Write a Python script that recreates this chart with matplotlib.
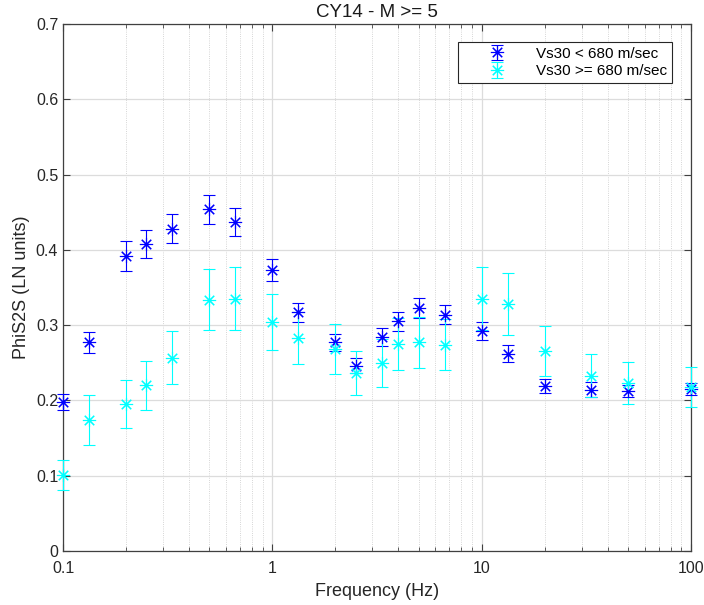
import numpy as np
import matplotlib
matplotlib.use("Agg")
import matplotlib.pyplot as plt
from matplotlib.ticker import FixedLocator, NullFormatter, LogLocator

plt.rcParams['font.family'] = ['Liberation Sans', 'DejaVu Sans']

freq = [0.1, 0.1333, 0.2, 0.25, 0.3333, 0.5, 0.6667, 1.0, 1.3333, 2.0, 2.5,
        3.3333, 4.0, 5.0, 6.6667, 10.0, 13.333, 20.0, 33.333, 50.0, 100.0]

# Vs30 < 680 m/sec
soft_mean = [0.198, 0.277, 0.392, 0.408, 0.428, 0.454, 0.437, 0.373, 0.317, 0.277, 0.246,
             0.284, 0.305, 0.323, 0.314, 0.292, 0.262, 0.219, 0.214, 0.213, 0.215]
soft_err = [0.011, 0.014, 0.020, 0.019, 0.019, 0.019, 0.018, 0.015, 0.013, 0.011, 0.010,
            0.012, 0.013, 0.013, 0.013, 0.012, 0.011, 0.009, 0.010, 0.008, 0.008]

# Vs30 >= 680 m/sec
hard_mean = [0.101, 0.174, 0.195, 0.220, 0.257, 0.334, 0.335, 0.304, 0.283, 0.268, 0.236,
             0.250, 0.275, 0.277, 0.274, 0.335, 0.328, 0.266, 0.233, 0.223, 0.218]
hard_err = [0.020, 0.033, 0.032, 0.033, 0.035, 0.041, 0.042, 0.037, 0.035, 0.033, 0.029,
            0.032, 0.034, 0.034, 0.034, 0.042, 0.041, 0.033, 0.028, 0.028, 0.027]

labels = ['Vs30 < 680 m/sec', 'Vs30 >= 680 m/sec']

yticks = [0, 0.1, 0.2, 0.3, 0.4, 0.5, 0.6, 0.7]
ylabels = ['0', '0.1', '0.2', '0.3', '0.4', '0.5', '0.6', '0.7']
xticks = [0.1, 1, 10, 100]
xlabels = ['0.1', '1', '10', '100']

fig = plt.figure(figsize=(7.04, 6.05), dpi=100)
ax = fig.add_axes([0.0895, 0.0893, 0.892, 0.871])

star = (8, 2, 0)
handles = []
for mean, err, col, lab in [(soft_mean, soft_err, (0, 0, 1), labels[0]),
                            (hard_mean, hard_err, (0, 1, 1), labels[1])]:
    eb = ax.errorbar(freq, mean, yerr=err, linestyle='none', marker=star,
                     markersize=9.5, markeredgewidth=0.8, color=col, ecolor=col,
                     elinewidth=0.8, capsize=4.5, capthick=0.8, label=lab, zorder=3)
    for art in eb.get_children():
        art.set_clip_on(False)
    handles.append(eb)

ax.set_xscale('log')
ax.set_xlim(0.1, 100)
ax.set_ylim(0, 0.7)
ax.xaxis.set_major_locator(FixedLocator(xticks))
ax.set_xticklabels(xlabels)
ax.xaxis.set_minor_locator(LogLocator(base=10, subs=np.arange(2, 10)))
ax.xaxis.set_minor_formatter(NullFormatter())
ax.set_yticks(yticks)
ax.set_yticklabels(ylabels)

ax.grid(True, which='major', color='#dcdcdc', linewidth=0.9, linestyle='-')
ax.grid(True, which='minor', axis='x', color='#c8c8c8', linewidth=0.6, linestyle=':')
ax.set_axisbelow(True)

ax.tick_params(which='both', direction='in', top=True, right=True,
               colors='#404040', labelcolor='#262626', labelsize=11.5)
ax.tick_params(which='major', length=5, width=0.8)
ax.tick_params(which='minor', length=3, width=0.6)
ax.tick_params(axis='x', which='major', pad=7)
for s in ax.spines.values():
    s.set_color('#404040')
    s.set_linewidth(0.9)

ax.set_title('CY14 - M >= 5', fontsize=13.5, color='#1a1a1a', pad=5)
ax.set_xlabel('Frequency (Hz)', fontsize=13, color='#262626', labelpad=5)
ax.set_ylabel('PhiS2S (LN units)', fontsize=13, color='#262626', labelpad=4)

leg = ax.legend(handles, labels, loc='upper right',
                bbox_to_anchor=(0.970, 0.966), borderaxespad=0,
                fontsize=11, frameon=True, fancybox=False, edgecolor='#262626',
                framealpha=1, handlelength=4.6, handletextpad=0.25,
                borderpad=0.3, labelspacing=0.25, numpoints=1)
leg.get_frame().set_linewidth(0.8)

fig.savefig('out.png', dpi=100)
